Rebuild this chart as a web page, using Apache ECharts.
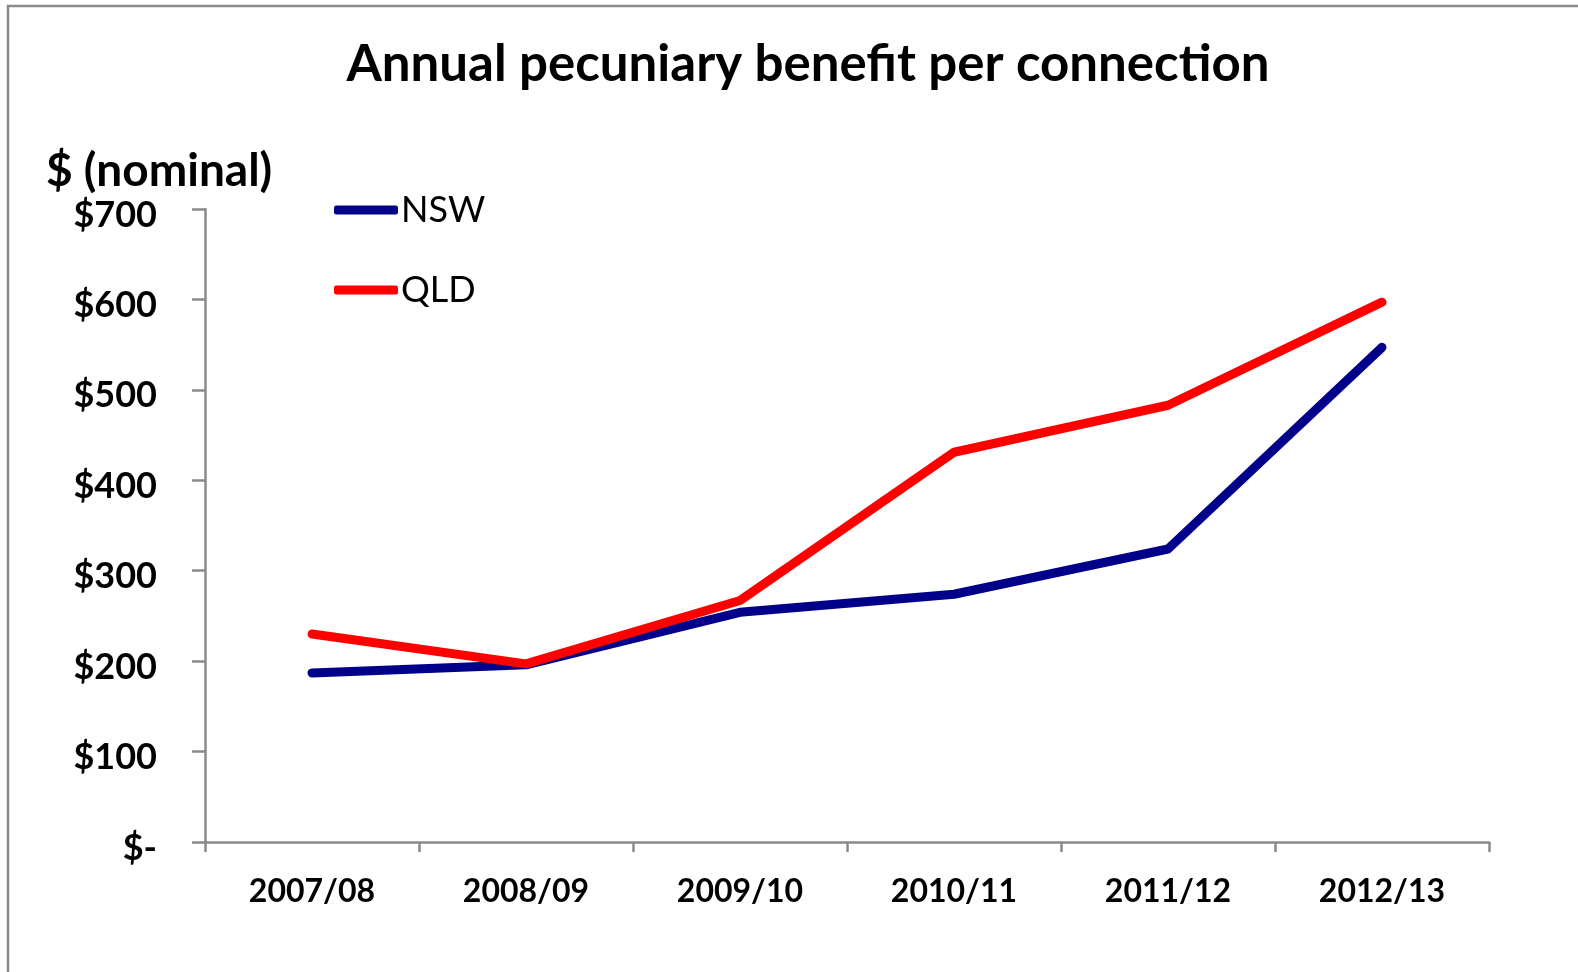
<!DOCTYPE html>
<html>
<head>
<meta charset="utf-8">
<script src="https://cdn.jsdelivr.net/npm/echarts@6/dist/echarts.min.js"></script>
<style>
  html, body { margin: 0; padding: 0; background: #ffffff; }
  #chart { width: 1578px; height: 972px; }
</style>
</head>
<body>
<div id="chart"></div>
<script>
// Financial years on the horizontal axis
const years = ['2007/08', '2008/09', '2009/10', '2010/11', '2011/12', '2012/13'];
// Annual pecuniary benefit per connection, $ nominal
const nswValues = [187, 196, 254, 274, 324, 547];
const qldValues = [230, 197, 267, 431, 483, 597];
// Value-axis tick values
const yTicks = [0, 100, 200, 300, 400, 500, 600, 700];

const FONT = 'Lato, "Open Sans", "DejaVu Sans", sans-serif';
const AXIS_GREY = '#8a8a8a';

const chart = echarts.init(document.getElementById('chart'), null, { renderer: 'canvas' });

chart.setOption({
  animation: false,
  backgroundColor: '#ffffff',
  textStyle: { fontFamily: FONT },
  graphic: [
    {
      type: 'rect',
      shape: { x: 8, y: 6, width: 1620, height: 1020 },
      style: { fill: 'none', stroke: AXIS_GREY, lineWidth: 2.5 },
      silent: true
    },
    {
      type: 'text',
      x: 808, y: 65,
      style: {
        text: 'Annual pecuniary benefit per connection',
        font: 'bold 51px ' + FONT,
        fill: '#000000',
        align: 'center',
        verticalAlign: 'middle'
      }
    },
    {
      type: 'text',
      x: 46, y: 171,
      style: {
        text: '$ (nominal)',
        font: 'bold 46px ' + FONT,
        fill: '#000000',
        align: 'left',
        verticalAlign: 'middle'
      }
    }
  ],
  legend: {
    orient: 'vertical',
    left: 329,
    top: 187,
    itemWidth: 64,
    itemHeight: 9,
    itemGap: 44,
    icon: 'roundRect',
    textStyle: { fontSize: 36, fontFamily: FONT, color: '#000000', padding: [0, 0, 0, -2] },
    data: ['NSW', 'QLD']
  },
  grid: { left: 205, right: 89, top: 209, bottom: 130, containLabel: false },
  xAxis: {
    type: 'category',
    data: years,
    boundaryGap: true,
    axisLine: { show: true, lineStyle: { color: AXIS_GREY, width: 2.5 } },
    axisTick: { show: true, length: 10, interval: 0, lineStyle: { color: AXIS_GREY, width: 2.5 } },
    axisLabel: {
      interval: 0,
      margin: 34,
      fontSize: 32,
      fontWeight: 'bold',
      fontFamily: FONT,
      color: '#000000'
    },
    splitLine: { show: false }
  },
  yAxis: {
    type: 'value',
    min: 0,
    max: 700,
    interval: 100,
    axisLine: { show: true, lineStyle: { color: AXIS_GREY, width: 2.5 } },
    axisTick: { show: true, length: 13, lineStyle: { color: AXIS_GREY, width: 2.5 } },
    axisLabel: {
      margin: 48,
      fontSize: 36,
      fontWeight: 'bold',
      fontFamily: FONT,
      color: '#000000',
      verticalAlign: 'top',
      lineHeight: 12,
      formatter: function (v) {
        return yTicks.indexOf(v) === -1 ? '' : (v === 0 ? '$-' : '$' + v);
      }
    },
    splitLine: { show: false }
  },
  series: [
    {
      name: 'NSW',
      type: 'line',
      data: nswValues,
      symbol: 'none',
      color: '#00008B',
      lineStyle: { width: 9, color: '#00008B', cap: 'round', join: 'round' }
    },
    {
      name: 'QLD',
      type: 'line',
      data: qldValues,
      symbol: 'none',
      color: '#FF0000',
      lineStyle: { width: 9, color: '#FF0000', cap: 'round', join: 'round' }
    }
  ]
});
</script>
</body>
</html>
